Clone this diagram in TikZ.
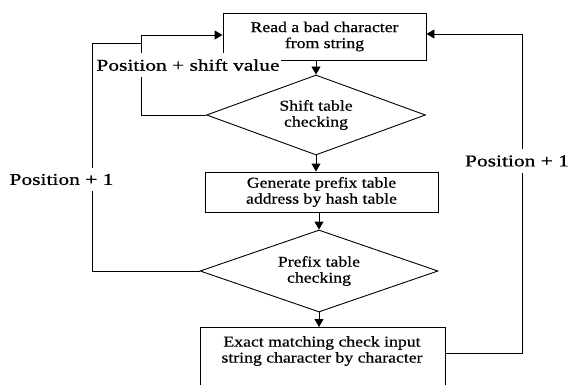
\documentclass[tikz,border=0pt]{standalone}
\usepackage{fontspec}
\setmainfont{Liberation Serif}[FakeStretch=1.18,FakeBold=0.6]
\newfontfamily\lblfont{Liberation Serif}[FakeStretch=1.3,FakeBold=0.8]
\usetikzlibrary{shapes.geometric,arrows.meta}
\begin{document}
\begin{tikzpicture}[x=1pt,y=-1pt,
  every node/.style={font=\fontsize{15}{16}\selectfont},
  procbox/.style={draw,line width=0.9pt,inner sep=0pt,align=center},
  decbox/.style={draw,line width=0.9pt,shape=diamond,aspect=2.7,inner sep=0pt,align=center},
  conn/.style={line width=0.9pt},
  arr/.style={conn,-{Triangle[length=8pt,width=9pt]}},
  lbl/.style={fill=white,inner xsep=1pt,inner ysep=6pt,font=\lblfont\fontsize{16.5}{18}\selectfont}]
\useasboundingbox (0,0) rectangle (570,385);
\node[procbox,minimum width=203pt,minimum height=47pt] (b1) at (324.5,36.5) {Read a bad character\\from string};
\node[decbox,minimum width=219pt,minimum height=80pt] (d1) at (316,115) {Shift table\\checking};
\node[procbox,minimum width=233pt,minimum height=40pt] (b2) at (321.5,192) {Generate prefix table\\address by hash table};
\node[decbox,minimum width=238pt,minimum height=82pt] (d2) at (319,271) {Prefix table\\checking};
\node[procbox,minimum width=245pt,minimum height=80pt,anchor=north] (b3) at (322.5,327) {};
\node[align=center,inner sep=0pt] (b3t) at (322,351) {Exact matching check input\\string character by character};
\coordinate (r1) at (522,353);
\coordinate (r2) at (522,34);
\coordinate (l1) at (141,115);
\coordinate (l2) at (141,35);
\coordinate (m1) at (92,271);
\coordinate (m2) at (92,43);
\coordinate (m3) at (141,43);
% main flow
\draw[arr] (d1.north |- b1.south) -- (d1.north);
\draw[arr] (d1.south) -- (d1.south |- b2.north);
\draw[arr] (d2.north |- b2.south) -- (d2.north);
\draw[arr] (d2.south) -- (d2.south |- b3.north);
% right loop
\draw[arr] (b3.east |- r1) -- (r1) -- (r2) -- (b1.east |- r2);
% left loops
\draw[arr] (d1.west) -- (l1) -- (l2) -- (b1.west |- l2);
\draw[conn] (d2.west) -- (m1) -- (m2) -- (m3);
% labels
\node[lbl] (p1) at (188,65) {Position + shift value};
\node[lbl] (p2) at (61.5,179.5) {Position + 1};
\node[lbl] (p3) at (517,161) {Position + 1};
\end{tikzpicture}
\end{document}
